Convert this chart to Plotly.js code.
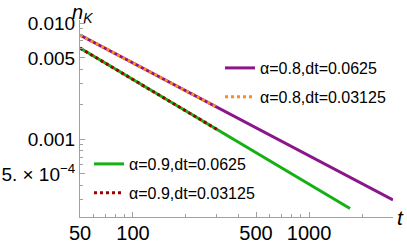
<!DOCTYPE html>
<html>
<head>
<meta charset="utf-8">
<script src="https://cdn.plot.ly/plotly-3.0.1.min.js"></script>
<style>html,body{margin:0;padding:0;background:#fff;}#chart{width:407px;height:241px;}</style>
</head>
<body>
<div id="chart"></div>
<script>
// Values
const tA08 = [50, 100, 300, 1000, 3000];
const nA08dt0625 = [0.00788, 0.00453, 0.00188, 0.000717, 0.000298];
const tA08fine = [50, 100, 200, 300];
const nA08dt03125 = [0.00788, 0.00453, 0.00260, 0.00188];
const tA09 = [50, 100, 300, 1000, 1710];
const nA09dt0625 = [0.00608, 0.00326, 0.00121, 0.000410, 0.000252];
const tA09fine = [50, 100, 200, 300];
const nA09dt03125 = [0.00608, 0.00326, 0.00175, 0.00121];

const xTickVals = [50, 100, 500, 1000];
const xTickText = ['50', '100', '500', '1000'];
const xMinor = [60, 70, 80, 90, 200, 300, 400, 600, 700, 800, 900, 2000, 3000];
const yTickVals = [0.01, 0.005, 0.001, 0.0005];
const yTickText = ['0.010', '0.005', '0.001', '5. \u00d7 10<sup>\u22124</sup>'];
const yMinor = [0.0003, 0.0004, 0.0006, 0.0007, 0.0008, 0.0009, 0.002, 0.003, 0.004, 0.006, 0.007, 0.008, 0.009];

const purple = '#8a168a', orange = '#ff8c1a', green = '#14b014', darkred = '#a00000';
const FONT = 'Liberation Sans, Arial, sans-serif';

const traces = [
  {x: tA08, y: nA08dt0625, mode: 'lines', name: '\u03b1=0.8,dt=0.0625',
   line: {color: purple, width: 3}, legend: 'legend', legendgroup: 'a'},
  {x: tA08fine, y: nA08dt03125, mode: 'lines', name: '\u03b1=0.8,dt=0.03125',
   line: {color: orange, width: 3, dash: 'dot'}, legend: 'legend', legendgroup: 'b'},
  {x: tA09, y: nA09dt0625, mode: 'lines', name: '\u03b1=0.9,dt=0.0625',
   line: {color: green, width: 3}, legend: 'legend2', legendgroup: 'c'},
  {x: tA09fine, y: nA09dt03125, mode: 'lines', name: '\u03b1=0.9,dt=0.03125',
   line: {color: darkred, width: 3, dash: 'dot'}, legend: 'legend2', legendgroup: 'd'}
];

const axisCommon = {
  type: 'log', showgrid: false, zeroline: false, showline: true,
  linecolor: '#a0a0a0', linewidth: 1, ticks: 'inside', ticklen: 5,
  tickcolor: '#a0a0a0', mirror: false
};

const layout = {
  width: 407, height: 241,
  margin: {l: 80, r: 14, t: 20, b: 24},
  paper_bgcolor: '#fff', plot_bgcolor: '#fff',
  xaxis: Object.assign({}, axisCommon, {
    range: [Math.log10(50), Math.log10(3000)],
    tickmode: 'array', tickvals: xTickVals, ticktext: xTickText,
    tickfont: {family: FONT, size: 20, color: '#000'}, ticklabelstandoff: -2,
    minor: {tickmode: 'array', tickvals: xMinor, ticks: 'inside', ticklen: 3, tickcolor: '#a0a0a0'}
  }),
  yaxis: Object.assign({}, axisCommon, {
    range: [-3.672, -1.974],
    tickmode: 'array', tickvals: yTickVals, ticktext: yTickText,
    tickfont: {family: FONT, size: 19, color: '#000'},
    minor: {tickmode: 'array', tickvals: yMinor, ticks: 'inside', ticklen: 3, tickcolor: '#a0a0a0'}
  }),
  showlegend: true,
  legend: {xanchor: 'left', yanchor: 'top',
    font: {family: FONT, size: 16, color: '#000'},
    bgcolor: 'rgba(0,0,0,0)', tracegroupgap: 5, itemwidth: 30},
  legend2: {xanchor: 'left', yanchor: 'top',
    font: {family: FONT, size: 16, color: '#000'},
    bgcolor: 'rgba(0,0,0,0)', tracegroupgap: 5, itemwidth: 30},
  annotations: [
    {text: '<i>n</i><sub><i>K</i></sub>', xref: 'paper', yref: 'paper', x: 0, y: 1,
     xanchor: 'center', yanchor: 'bottom', showarrow: false, yshift: -8, xshift: 2,
     font: {family: FONT, size: 20, color: '#000'}},
    {text: '<i>t</i>', xref: 'paper', yref: 'paper', x: 1, y: 0,
     xanchor: 'left', yanchor: 'middle', showarrow: false, xshift: 2, yshift: 0,
     font: {family: FONT, size: 21, color: '#000'}}
  ]
};
// legend positions in paper fraction
const pw = 407 - 80 - 14, ph = 241 - 20 - 24;
layout.legend.x = (220 - 80) / pw;
layout.legend.y = 1 - (51 - 20) / ph;
layout.legend2.x = (89 - 80) / pw;
layout.legend2.y = 1 - (147 - 20) / ph;

Plotly.newPlot('chart', traces, layout, {displayModeBar: false, staticPlot: true});
</script>
</body>
</html>
